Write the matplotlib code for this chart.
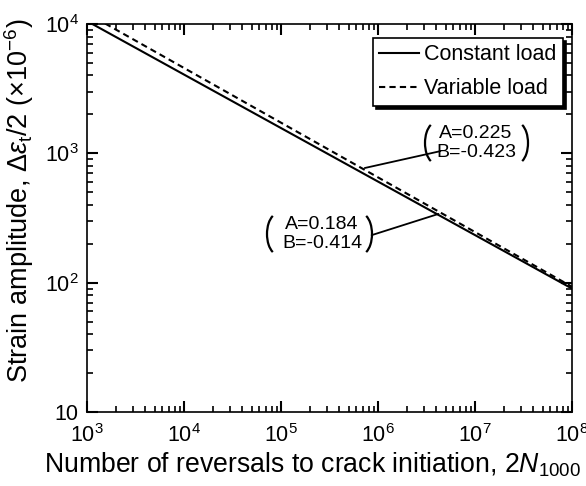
import matplotlib
matplotlib.use("Agg")
import matplotlib.pyplot as plt
from matplotlib.patches import Arc
from matplotlib.transforms import IdentityTransform

plt.rcParams["font.family"] = ["Liberation Sans", "DejaVu Sans"]
plt.rcParams["mathtext.fontset"] = "custom"
plt.rcParams["mathtext.rm"] = "Liberation Sans"
plt.rcParams["mathtext.it"] = "Liberation Sans:italic"

# curve end points (straight lines in log-log)
reversals = [1e3, 1e8]
constant_load = [10540, 90]
variable_load = [12100, 93]

x_ticks = [1e3, 1e4, 1e5, 1e6, 1e7, 1e8]
x_tick_labels = ["$10^3$", "$10^4$", "$10^5$", "$10^6$", "$10^7$", "$10^8$"]
y_ticks = [10, 1e2, 1e3, 1e4]
y_tick_labels = ["10", "$10^2$", "$10^3$", "$10^4$"]

W, H = 586, 486
fig = plt.figure(figsize=(W / 100, H / 100), dpi=100)
ax = fig.add_axes([87 / W, 1 - 412 / H, 485 / W, 388 / H])

ax.plot(reversals, constant_load, color="black", lw=1.5, label="Constant load")
ax.plot(reversals, variable_load, color="black", lw=1.5, ls=(0, (3, 2)),
        label="Variable load")

ax.set_xscale("log")
ax.set_yscale("log")
ax.set_xlim(1e3, 1e8)
ax.set_ylim(10, 1e4)
ax.set_xticks(x_ticks)
ax.set_xticklabels(x_tick_labels, fontsize=15.5)
ax.set_yticks(y_ticks)
ax.set_yticklabels(y_tick_labels, fontsize=15.5)
ax.tick_params(which="both", direction="in", top=True, right=True)
ax.tick_params(which="major", length=8, width=1.5)
ax.tick_params(which="minor", length=4.5, width=1.2)
ax.tick_params(axis="x", which="major", pad=9)
ax.tick_params(axis="y", which="major", pad=6)
for s in ax.spines.values():
    s.set_linewidth(1.2)

ax.set_xlabel(r"Number of reversals to crack initiation, 2$N_{\mathrm{1000}}$",
              fontsize=19.2)
ax.set_ylabel(r"Strain amplitude, $\Delta\varepsilon_{\mathrm{t}}$/2 ($\mathrm{\times 10^{-6}}$)",
              fontsize=19.5)
ax.xaxis.set_label_coords(0.465, -0.098)
ax.yaxis.set_label_coords(-0.105, 0.545)

leg = ax.legend(loc="upper right", fontsize=15.5, frameon=True, fancybox=False,
                shadow={"color": "black", "alpha": 1}, handlelength=1.85,
                handletextpad=0.23, borderpad=0.3, labelspacing=0.6,
                borderaxespad=0,
                bbox_to_anchor=((563 - 87) / 485, (412 - 38) / 388))
leg.get_frame().set_edgecolor("black")
leg.get_frame().set_linewidth(1.2)


def note(cx, cy, text, left, right):
    # text block in pixel coords (from top-left) with thin tall brackets
    x, y = cx, H - cy
    ax.text(x, y, text, transform=IdentityTransform(), ha="center",
            va="center", fontsize=14, linespacing=1.15)
    for px, t1, t2 in ((left + 11, 106, 254), (right - 11, -74, 74)):
        arc = Arc((px, y), 22, 41, theta1=t1, theta2=t2,
                  transform=IdentityTransform(), color="black", lw=1.6)
        fig.add_artist(arc)


note(476, 143, "A=0.225\nB=-0.423", 425, 528)
note(322, 234, "A=0.184\nB=-0.414", 267, 372)

# leader lines from the curves to the notes
ax.annotate("", xy=(7.3e5, 770), xytext=(4.4e6, 1.04e3),
            arrowprops=dict(arrowstyle="-", color="black", lw=1.3,
                            shrinkA=0, shrinkB=0))
ax.annotate("", xy=(4.2e6, 340), xytext=(8.6e5, 233),
            arrowprops=dict(arrowstyle="-", color="black", lw=1.3,
                            shrinkA=0, shrinkB=0))

fig.savefig("out.png", dpi=100)
